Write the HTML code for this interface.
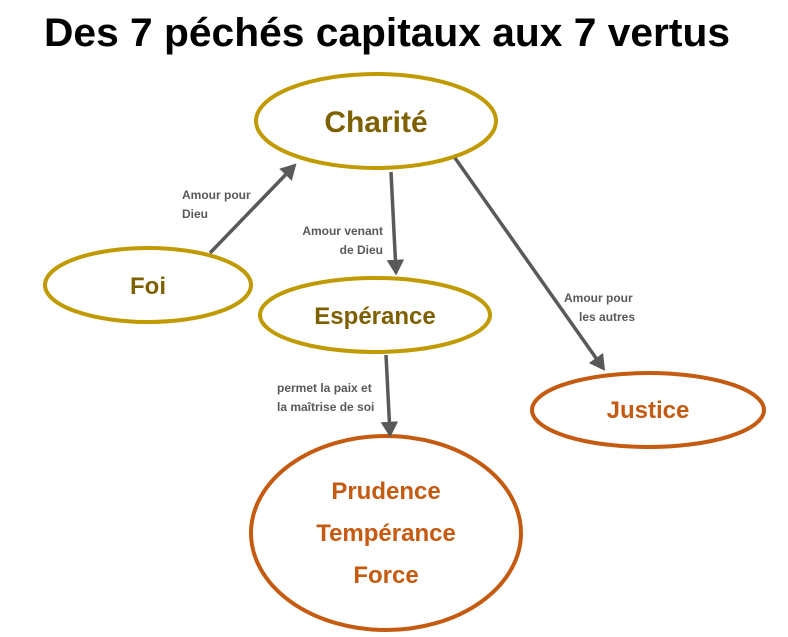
<!DOCTYPE html>
<html><head><style>body{margin:0;background:#fff}</style></head><body>
<svg width="788" height="632" xmlns="http://www.w3.org/2000/svg" font-family="Liberation Sans, sans-serif">
<defs><marker id="a" markerWidth="5" markerHeight="5" refX="3.5" refY="2.5" orient="auto" markerUnits="strokeWidth"><path d="M0,0 L4.5,2.5 L0,5 Z" fill="#595959"/></marker></defs>
<text x="44" y="46" font-size="40" font-weight="bold" fill="#000" textLength="686" lengthAdjust="spacingAndGlyphs">Des 7 péchés capitaux aux 7 vertus</text>
<g fill="#fff" stroke-width="4">
<ellipse cx="376" cy="121" rx="120" ry="47" stroke="#C09A00"/>
<ellipse cx="148" cy="285" rx="103" ry="37" stroke="#C09A00"/>
<ellipse cx="375" cy="315" rx="115" ry="37" stroke="#C09A00"/>
<ellipse cx="648" cy="410" rx="116" ry="37" stroke="#C55A11"/>
<ellipse cx="386" cy="533" rx="135" ry="97" stroke="#C55A11"/>
</g>
<g stroke="#595959" stroke-width="3.5" marker-end="url(#a)">
<line x1="210" y1="253" x2="294" y2="166"/>
<line x1="391" y1="172" x2="396" y2="272"/>
<line x1="455" y1="158" x2="603" y2="368"/>
<line x1="386" y1="355" x2="390" y2="434"/>
</g>
<g font-weight="bold" text-anchor="middle">
<text x="376" y="132" font-size="30" fill="#7F6000">Charité</text>
<text x="148" y="294" font-size="24" fill="#7F6000">Foi</text>
<text x="375" y="324" font-size="24" fill="#7F6000">Espérance</text>
<text x="648" y="418" font-size="24" fill="#C55A11">Justice</text>
<text x="386" y="499" font-size="24" fill="#C55A11">Prudence</text>
<text x="386" y="541" font-size="24" fill="#C55A11">Tempérance</text>
<text x="386" y="583" font-size="24" fill="#C55A11">Force</text>
</g>
<g font-weight="bold" font-size="12" fill="#595959">
<text x="182" y="199">Amour pour</text>
<text x="182" y="218">Dieu</text>
<text x="383" y="235" text-anchor="end">Amour venant</text>
<text x="383" y="254" text-anchor="end">de Dieu</text>
<text x="277" y="392">permet la paix et</text>
<text x="277" y="411">la maîtrise de soi</text>
<text x="564" y="302">Amour pour</text>
<text x="579" y="321">les autres</text>
</g>
</svg>
</body></html>
